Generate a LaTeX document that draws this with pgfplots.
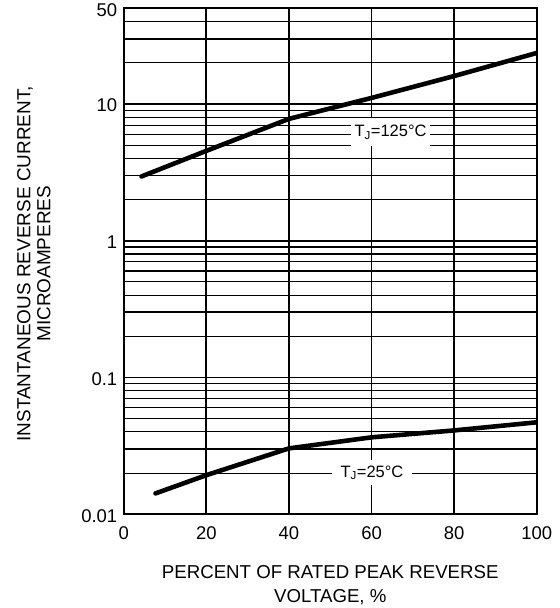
\documentclass[border=0pt]{standalone}
\usepackage{fontspec}
\setmainfont{Liberation Sans}
\usepackage{pgfplots}
\pgfplotsset{compat=1.18}
\begin{document}
\begin{tikzpicture}
\begin{axis}[
  at={(0,0)}, anchor=south west,
  scale only axis,
  width=414pt, height=507pt,
  xmin=0, xmax=100,
  ymode=log, ymin=0.01, ymax=50,
  xtick={0,20,40,60,80,100},
  ytick={0.01,0.1,1,10,50},
  yticklabels={0.01,0.1,1,10,\raisebox{-8pt}{50}},
  minor ytick={0.02,0.04,0.05,0.06,0.07,0.08,0.09,0.2,0.4,0.5,0.6,0.7,0.8,0.9,2,4,5,6,7,8,9,20,40},
  extra y ticks={0.03,0.3,3,30},
  extra y tick labels={},
  extra y tick style={grid=major, major tick length=0pt},
  grid=both,
  major grid style={black, line width=1.8pt},
  minor grid style={black, line width=1.1pt},
  major tick length=0pt, minor tick length=0pt,
  axis line style={black, line width=1.8pt},
  tick label style={font=\fontsize{18.5}{20}\selectfont},
  /pgf/number format/assume math mode=true,
  xticklabel style={yshift=-9pt},
  yticklabel style={xshift=-3pt, yshift=-1.5pt},
  clip=true,
]
\addplot[black, line width=4.6pt, line cap=round, line join=round] coordinates {
  (4.3,2.95) (20,4.54) (40,7.78) (60,11.07) (80,16.0) (100,23.6)
};
\addplot[black, line width=4.6pt, line cap=round, line join=round] coordinates {
  (7.7,0.0142) (20,0.0193) (40,0.0303) (60,0.0365) (80,0.041) (100,0.047)
};
\node[fill=white, minimum width=80pt, minimum height=28pt, inner sep=0pt, font=\fontsize{16.5}{18}\selectfont] at (axis cs:64.6,6.19) {T\textsubscript{J}=125°C};
\node[fill=white, minimum width=80pt, minimum height=25pt, inner sep=0pt, font=\fontsize{16.5}{18}\selectfont] at (axis cs:60.1,0.0201) {T\textsubscript{J}=25°C};
\end{axis}
\node[rotate=90, align=center, font=\fontsize{19}{20}\selectfont] at (-90pt,251pt) {INSTANTANEOUS REVERSE CURRENT,\\MICROAMPERES};
\node[align=center, font=\fontsize{18.7}{23.5}\selectfont] at (207pt,-71pt) {PERCENT OF RATED PEAK REVERSE\\VOLTAGE, \%};
\path (-124pt,-94pt) rectangle (437pt,514pt);
\end{tikzpicture}
\end{document}
